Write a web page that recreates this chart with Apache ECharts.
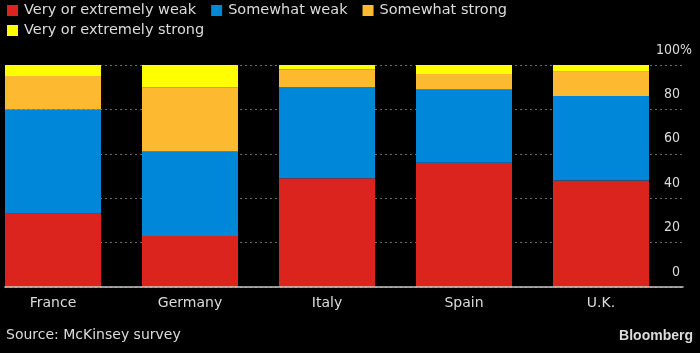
<!DOCTYPE html>
<html>
<head>
<meta charset="utf-8">
<script src="https://cdn.jsdelivr.net/npm/echarts@6/dist/echarts.min.js"></script>
<style>
  html, body { margin: 0; padding: 0; background: #000; }
  #chart { width: 700px; height: 353px; }
</style>
</head>
<body>
<div id="chart"></div>
<script>
// survey shares, percent of respondents
const countries = ['France', 'Germany', 'Italy', 'Spain', 'U.K.'];
const veryWeak = [33, 23, 49, 56, 48];
const somewhatWeak = [47, 38, 41, 33, 38];
const somewhatStrong = [15, 29, 8, 7, 11];
const veryStrong = [5, 10, 2, 4, 3];
const yTicks = [0, 20, 40, 60, 80, 100];

const textColor = '#dcdcdc';
const font = 'DejaVu Sans';

const chart = echarts.init(document.getElementById('chart'));

const barSeries = (name, data, color) => ({
  name: name,
  type: 'bar',
  stack: 'total',
  xAxisIndex: 1,
  yAxisIndex: 1,
  data: data,
  barWidth: 96,
  itemStyle: { color: color },
  emphasis: { disabled: true },
});

const legendBase = {
  left: 7,
  padding: 0,
  icon: 'rect',
  itemWidth: 11,
  itemHeight: 11,
  itemGap: 15,
  selectedMode: false,
  textStyle: {
    color: textColor,
    fontFamily: font,
    fontSize: 14.5,
    padding: [0, 0, 0, 1],
  },
};

chart.setOption({
  backgroundColor: '#000',
  animation: false,
  legend: [
    Object.assign({}, legendBase, {
      top: 3,
      data: ['Very or extremely weak', 'Somewhat weak', 'Somewhat strong'],
    }),
    Object.assign({}, legendBase, {
      top: 23,
      data: ['Very or extremely strong'],
    }),
  ],
  grid: [
    // grid for the gridlines, axis line and right-hand labels
    { left: 5, right: 17, top: 65, bottom: 66, outerBoundsMode: 'none', containLabel: false },
    // grid for the bars
    { left: -15.5, right: 30.5, top: 65, bottom: 66, outerBoundsMode: 'none', containLabel: false },
  ],
  xAxis: [
    {
      type: 'category',
      gridIndex: 0,
      data: [''],
      axisTick: { show: false },
      axisLabel: { show: false },
      axisLine: { lineStyle: { color: '#c8c8c8', width: 1.5 } },
      z: 5,
    },
    {
      type: 'category',
      gridIndex: 1,
      data: countries,
      axisTick: { show: false },
      axisLine: { show: false },
      axisLabel: {
        color: textColor,
        fontFamily: font,
        fontSize: 14,
        margin: 9,
      },
    },
  ],
  yAxis: [
    {
      type: 'value',
      gridIndex: 0,
      position: 'right',
      min: 0,
      max: 100,
      interval: 20,
      axisLine: { show: false },
      axisTick: { show: false },
      splitLine: { lineStyle: { color: '#6a6a6a', type: [2, 3], width: 1 } },
      axisLabel: {
        align: 'right',
        verticalAlign: 'bottom',
        margin: 9,
        padding: [0, 0, 8, 0],
        color: textColor,
        fontFamily: 'DejaVu Sans Condensed',
        fontSize: 14,
        formatter: (v) => (v === yTicks[yTicks.length - 1] ? v + '%' : v + '{h|%}'),
        rich: {
          h: { color: 'rgba(0,0,0,0)', fontFamily: 'DejaVu Sans Condensed', fontSize: 14 },
        },
      },
    },
    {
      type: 'value',
      gridIndex: 1,
      min: 0,
      max: 100,
      show: false,
    },
  ],
  series: [
    barSeries('Very or extremely weak', veryWeak, '#dc241f'),
    barSeries('Somewhat weak', somewhatWeak, '#0087da'),
    barSeries('Somewhat strong', somewhatStrong, '#fdb92f'),
    barSeries('Very or extremely strong', veryStrong, '#ffff00'),
  ],
  graphic: [
    {
      type: 'text',
      left: 6,
      top: 328,
      style: { text: 'Source: McKinsey survey', fill: textColor, font: '14px "DejaVu Sans"' },
    },
    {
      type: 'text',
      right: 7,
      top: 329,
      style: { text: 'Bloomberg', fill: textColor, font: 'bold 14px "Liberation Sans"' },
    },
  ],
});
</script>
</body>
</html>
